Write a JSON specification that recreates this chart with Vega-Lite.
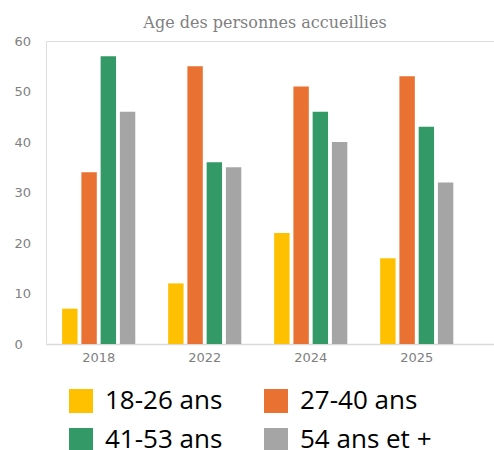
{
  "$schema": "https://vega.github.io/schema/vega-lite/v6.json",
  "autosize": "none",
  "width": 448,
  "height": 303,
  "padding": {"left": 46, "top": 41, "right": 0, "bottom": 106},
  "background": "white",
  "title": {
    "text": "Age des personnes accueillies",
    "font": "DejaVu Serif",
    "fontSize": 16,
    "fontWeight": "normal",
    "color": "#7f7f7f",
    "anchor": "middle",
    "offset": 4,
    "dx": -5
  },
  "data": {
    "values": [
      {"annee": "2018", "groupe": "18-26 ans", "valeur": 7},
      {"annee": "2018", "groupe": "27-40 ans", "valeur": 34},
      {"annee": "2018", "groupe": "41-53 ans", "valeur": 57},
      {"annee": "2018", "groupe": "54 ans et +", "valeur": 46},
      {"annee": "2022", "groupe": "18-26 ans", "valeur": 12},
      {"annee": "2022", "groupe": "27-40 ans", "valeur": 55},
      {"annee": "2022", "groupe": "41-53 ans", "valeur": 36},
      {"annee": "2022", "groupe": "54 ans et +", "valeur": 35},
      {"annee": "2024", "groupe": "18-26 ans", "valeur": 22},
      {"annee": "2024", "groupe": "27-40 ans", "valeur": 51},
      {"annee": "2024", "groupe": "41-53 ans", "valeur": 46},
      {"annee": "2024", "groupe": "54 ans et +", "valeur": 40},
      {"annee": "2025", "groupe": "18-26 ans", "valeur": 17},
      {"annee": "2025", "groupe": "27-40 ans", "valeur": 53},
      {"annee": "2025", "groupe": "41-53 ans", "valeur": 43},
      {"annee": "2025", "groupe": "54 ans et +", "valeur": 32}
    ]
  },
  "mark": {"type": "bar"},
  "encoding": {
    "x": {
      "field": "annee",
      "type": "nominal",
      "scale": {"paddingInner": 0.31, "paddingOuter": 0.268, "align": 0.284},
      "axis": {
        "title": null,
        "labelAngle": 0,
        "ticks": false,
        "domainColor": "#d9d9d9",
        "domainWidth": 1.5,
        "labelFont": "DejaVu Sans",
        "labelFontSize": 13,
        "labelColor": "#7f7f7f",
        "labelPadding": 7
      }
    },
    "xOffset": {
      "field": "groupe",
      "type": "nominal",
      "scale": {"paddingInner": 0.2}
    },
    "y": {
      "field": "valeur",
      "type": "quantitative",
      "scale": {"domain": [0, 60]},
      "axis": {
        "title": null,
        "values": [0, 10, 20, 30, 40, 50, 60],
        "grid": false,
        "ticks": false,
        "domain": false,
        "labelFont": "DejaVu Sans",
        "labelFontSize": 13,
        "labelColor": "#7f7f7f",
        "labelAlign": "left",
        "labelPadding": 32
      }
    },
    "color": {
      "field": "groupe",
      "type": "nominal",
      "scale": {
        "domain": ["18-26 ans", "27-40 ans", "41-53 ans", "54 ans et +"],
        "range": ["#FFC000", "#E97132", "#339966", "#A5A5A5"]
      },
      "legend": {
        "title": null,
        "orient": "none",
        "legendX": 22,
        "legendY": 347,
        "direction": "horizontal",
        "columns": 2,
        "symbolType": "square",
        "symbolSize": 576,
        "symbolStrokeWidth": 0,
        "labelFont": "Open Sans",
        "labelFontSize": 26,
        "labelColor": "#000000",
        "labelOffset": 11,
        "labelLimit": 300,
        "columnPadding": 40,
        "rowPadding": 13
      }
    }
  }
}
